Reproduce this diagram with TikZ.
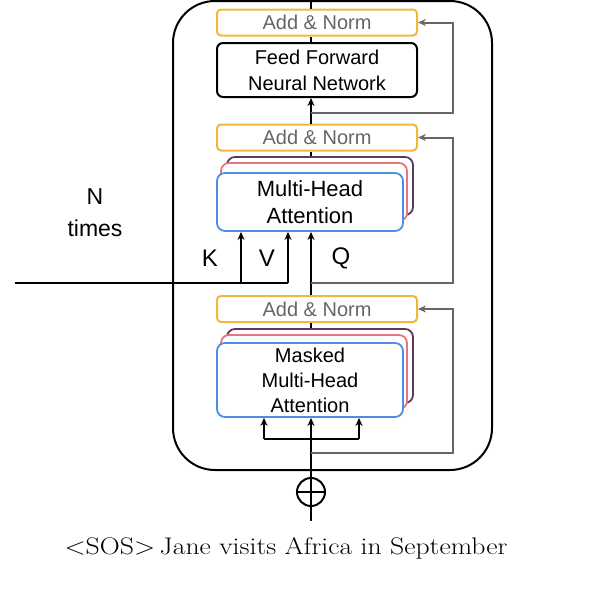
\documentclass[tikz,border=0pt]{standalone}
\usepackage{fontspec}
\setsansfont{Liberation Sans}
\usetikzlibrary{arrows.meta}
\definecolor{normc}{HTML}{F4B63B}
\definecolor{mhblue}{HTML}{4A8EE6}
\definecolor{mhred}{HTML}{E9737F}
\definecolor{mhpurple}{HTML}{5C3A5C}
\definecolor{resgray}{HTML}{666666}
\begin{document}
\begin{tikzpicture}[x=1pt,y=-1pt,
  normbox/.style={draw=normc, line width=2pt, rounded corners=4pt, fill=white,
    minimum width=200pt, minimum height=26pt, inner sep=0pt, text=resgray,
    font=\sffamily\fontsize{20}{24}\selectfont},
  ffnbox/.style={draw, line width=2pt, rounded corners=6pt, minimum width=200pt,
    minimum height=54pt, inner sep=0pt, align=center,
    font=\sffamily\fontsize{20}{26}\selectfont},
  stackbox/.style={line width=1.8pt, rounded corners=8pt, fill=white,
    minimum width=186pt, inner sep=0pt, align=center},
  conn/.style={line width=2pt, black},
  tipc/.style={-{Stealth[length=8pt,width=7pt]}},
  res/.style={line width=2pt, resgray, -{Stealth[length=8pt,width=7pt]}},
  lbl/.style={font=\sffamily\fontsize{24}{30}\selectfont, inner sep=0pt}
]
\useasboundingbox (0,0) rectangle (600,600);
% outer block
\draw[line width=2pt, rounded corners=42pt] (173,1) rectangle (492,470);
% coordinates
\coordinate (top) at (311,-2);
\coordinate (rx) at (453,0);
\coordinate (r1) at (311,113);
\coordinate (r2) at (311,283);
\coordinate (r3) at (311,453);
\coordinate (left) at (15,283);
\coordinate (kx) at (241,283);
\coordinate (vx) at (288,283);
\coordinate (sl) at (264,439);
\coordinate (sr) at (359,439);
\coordinate (bot) at (311,521);
% nodes
\node[normbox] (an1) at (317,22.5) {Add \& Norm};
\node[ffnbox] (ffn) at (317,70) {Feed Forward\\Neural Network};
\node[normbox] (an2) at (317,137.5) {Add \& Norm};
\node[stackbox, draw=mhpurple, minimum height=58pt] (mhp) at (320,186) {};
\node[stackbox, draw=mhred, minimum height=58pt] (mhr) at (314,192) {};
\node[stackbox, draw=mhblue, minimum height=58pt, font=\sffamily\fontsize{22}{27}\selectfont] (mh) at (310,202) {Multi-Head\\Attention};
\node[normbox] (an3) at (317,309) {Add \& Norm};
\node[stackbox, draw=mhpurple, minimum height=74pt] (mmp) at (320,366) {};
\node[stackbox, draw=mhred, minimum height=74pt] (mmr) at (314,372) {};
\node[stackbox, draw=mhblue, minimum height=74pt, font=\sffamily\fontsize{20}{25}\selectfont] (mm) at (310,380) {Masked\\Multi-Head\\Attention};
\node[circle, draw, line width=2pt, minimum size=28pt, inner sep=0pt] (plus) at (311,492) {};
\draw[conn] (plus.west) -- (plus.east);
\draw[conn] (plus.north) -- (plus.south);
% labels
\node[lbl, align=center, font=\sffamily\fontsize{23}{32}\selectfont] (ntimes) at (95,213) {N\\times};
\node[lbl] (klbl) at (210,258) {K};
\node[lbl] (vlbl) at (267,258) {V};
\node[lbl] (qlbl) at (341,258) {Q};
\node[inner sep=0pt] (sent) at (286,548) {\scalebox{1.155}[1]{\fontsize{24}{28}\selectfont <SOS>\,Jane visits Africa in September}};
% connectors
\draw[conn] (top) -- (an1.north -| top);
\draw[conn] (ffn.north -| top) -- (an1.south -| top);
\draw[conn, tipc] (an2.north -| top) -- (ffn.south -| top);
\draw[res] (r1) -| (rx |- an1.east) -- (an1.east);
\draw[conn] (mhp.north -| top) -- (an2.south -| top);
\draw[conn] (left) -- (vx);
\draw[conn, tipc] (kx) -- (mh.south -| kx);
\draw[conn, tipc] (vx) -- (mh.south -| vx);
\draw[conn, tipc] (an3.north -| top) -- (mh.south -| top);
\draw[res] (r2) -| (rx |- an2.east) -- (an2.east);
\draw[conn] (mmp.north -| top) -- (an3.south -| top);
\draw[conn, tipc] (plus.north) -- (mm.south -| top);
\draw[conn] (sl) -- (sr);
\draw[conn, tipc] (sl) -- (mm.south -| sl);
\draw[conn, tipc] (sr) -- (mm.south -| sr);
\draw[res] (r3) -| (rx |- an3.east) -- (an3.east);
\draw[conn] (plus.south) -- (bot);
\end{tikzpicture}
\end{document}
